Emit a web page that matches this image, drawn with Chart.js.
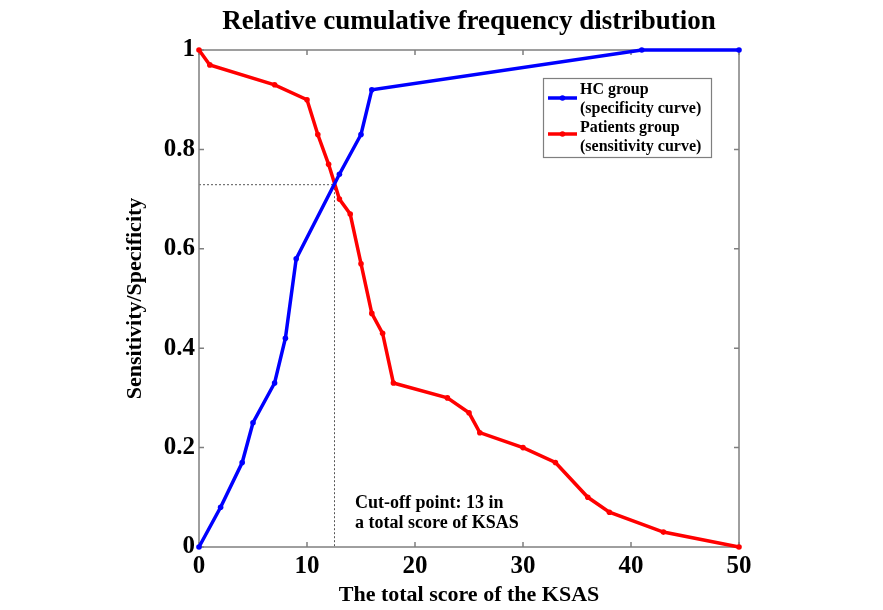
<!DOCTYPE html>
<html>
<head>
<meta charset="utf-8">
<script src="https://cdn.jsdelivr.net/npm/chart.js@4"></script>
<style>
  html, body { margin: 0; padding: 0; background: #fff; }
  #wrap { width: 883px; height: 610px; }
</style>
</head>
<body>
<div id="wrap"><canvas id="c" width="883" height="610"></canvas></div>
<script>
// KSAS total score (x) and cumulative proportions (y)
const hcScores = [0, 2, 4, 5, 7, 8, 9, 13, 15, 16, 41, 50];
const hcValues = [0, 0.08, 0.17, 0.25, 0.33, 0.42, 0.58, 0.75, 0.83, 0.92, 1, 1];
const patientScores = [0, 1, 7, 10, 11, 12, 13, 14, 15, 16, 17, 18, 23, 25, 26, 30, 33, 36, 38, 43, 50];
const patientValues = [1, 0.97, 0.93, 0.90, 0.83, 0.77, 0.70, 0.67, 0.57, 0.47, 0.43, 0.33, 0.30, 0.27, 0.23, 0.20, 0.17, 0.10, 0.07, 0.03, 0];
const xTicks = [0, 10, 20, 30, 40, 50];
const yTicks = [0, 0.2, 0.4, 0.6, 0.8, 1];
const cutoff = { x: 12.5, y: 0.73 };
const legendLabels = [["HC group", "(specificity curve)"], ["Patients group", "(sensitivity curve)"]];
const titleText = "Relative cumulative frequency distribution";
const cutoffNote = ["Cut-off point: 13 in", "a total score of KSAS"];

const SERIF = '"Liberation Serif", "Times New Roman", serif';
const BLUE = '#0000ff';
const RED = '#ff0000';
const AXIS = '#7f7f7f';

function pts(xs, ys) { return xs.map((x, i) => ({ x: x, y: ys[i] })); }

// Frame, inward ticks, cut-off guides, title, note and legend
const decor = {
  id: 'decor',
  beforeDatasetsDraw(chart) {
    const ctx = chart.ctx, a = chart.chartArea;
    const xs = chart.scales.x, ys = chart.scales.y;
    ctx.save();
    // dotted cut-off guides
    ctx.strokeStyle = '#555';
    ctx.lineWidth = 1;
    ctx.setLineDash([2, 2]);
    const cx = xs.getPixelForValue(cutoff.x), cy = ys.getPixelForValue(cutoff.y);
    ctx.beginPath();
    ctx.moveTo(xs.getPixelForValue(0), cy + 0.5); ctx.lineTo(cx, cy + 0.5);
    ctx.moveTo(cx + 0.5, cy); ctx.lineTo(cx + 0.5, ys.getPixelForValue(0));
    ctx.stroke();
    ctx.setLineDash([]);
    // frame
    ctx.strokeStyle = AXIS;
    ctx.lineWidth = 1.5;
    ctx.strokeRect(a.left, a.top, a.right - a.left, a.bottom - a.top);
    // inward tick marks on all four sides
    const tl = 5;
    ctx.beginPath();
    xTicks.forEach(v => {
      const px = xs.getPixelForValue(v);
      ctx.moveTo(px, a.bottom); ctx.lineTo(px, a.bottom - tl);
      ctx.moveTo(px, a.top); ctx.lineTo(px, a.top + tl);
    });
    yTicks.forEach(v => {
      const py = ys.getPixelForValue(v);
      ctx.moveTo(a.left, py); ctx.lineTo(a.left + tl, py);
      ctx.moveTo(a.right, py); ctx.lineTo(a.right - tl, py);
    });
    ctx.stroke();
    ctx.restore();
  },
  afterDraw(chart) {
    const ctx = chart.ctx, a = chart.chartArea;
    ctx.save();
    // title
    ctx.fillStyle = '#000';
    ctx.font = 'bold 27px ' + SERIF;
    ctx.textAlign = 'center';
    ctx.textBaseline = 'middle';
    ctx.fillText(titleText, (a.left + a.right) / 2, 22);
    // cut-off note
    ctx.font = 'bold 18px ' + SERIF;
    ctx.textAlign = 'left';
    ctx.fillText(cutoffNote[0], 355, 503);
    ctx.fillText(cutoffNote[1], 355, 523);
    // legend
    const bx = 543, by = 78, bw = 168, bh = 79;
    ctx.fillStyle = '#fff';
    ctx.fillRect(bx, by, bw, bh);
    ctx.strokeStyle = AXIS;
    ctx.lineWidth = 1.2;
    ctx.strokeRect(bx + 0.5, by + 0.5, bw, bh);
    const colors = chart.data.datasets.map(d => d.borderColor);
    const rows = [[90, 109, 98], [128, 147, 134]];
    legendLabels.forEach((lab, i) => {
      const [y1, y2, ly] = rows[i];
      ctx.strokeStyle = colors[i];
      ctx.lineWidth = 3.5;
      ctx.beginPath(); ctx.moveTo(548, ly); ctx.lineTo(577, ly); ctx.stroke();
      ctx.fillStyle = colors[i];
      ctx.beginPath(); ctx.arc(562.5, ly, 2.8, 0, Math.PI * 2); ctx.fill();
      ctx.fillStyle = '#000';
      ctx.font = 'bold 16px ' + SERIF;
      ctx.textBaseline = 'middle';
      ctx.fillText(lab[0], 580, y1);
      ctx.fillText(lab[1], 580, y2);
    });
    ctx.restore();
  }
};

new Chart(document.getElementById('c'), {
  type: 'line',
  data: {
    datasets: [
      {
        label: 'HC group (specificity curve)',
        data: pts(hcScores, hcValues),
        borderColor: BLUE, backgroundColor: BLUE,
        borderWidth: 3.5, pointRadius: 2.8, pointHoverRadius: 2.8,
        pointBorderWidth: 0, tension: 0, clip: false
      },
      {
        label: 'Patients group (sensitivity curve)',
        data: pts(patientScores, patientValues),
        borderColor: RED, backgroundColor: RED,
        borderWidth: 3.5, pointRadius: 2.8, pointHoverRadius: 2.8,
        pointBorderWidth: 0, tension: 0, clip: false
      }
    ]
  },
  options: {
    responsive: false,
    animation: false,
    events: [],
    layout: { padding: { left: 0, top: 50, right: 144, bottom: 0 } },
    plugins: { legend: { display: false }, title: { display: false }, tooltip: { enabled: false } },
    scales: {
      x: {
        type: 'linear', min: 0, max: 50,
        grid: { display: false, drawTicks: false },
        border: { display: false },
        afterBuildTicks(s) { s.ticks = xTicks.map(v => ({ value: v })); },
        afterFit(s) { s.height = 63; },
        ticks: { color: '#000', padding: 5, font: { family: SERIF, size: 25, weight: 'bold' }, maxRotation: 0 },
        title: { display: true, text: 'The total score of the KSAS', color: '#000',
                 font: { family: SERIF, size: 22, weight: 'bold' }, padding: { top: 0, bottom: 1 } }
      },
      y: {
        type: 'linear', min: 0, max: 1,
        grid: { display: false, drawTicks: false },
        border: { display: false },
        afterBuildTicks(s) { s.ticks = yTicks.map(v => ({ value: v })); },
        afterFit(s) { s.width = 199; },
        ticks: { color: '#000', padding: 4, font: { family: SERIF, size: 25, weight: 'bold' },
                 callback: v => String(v) },
        title: { display: true, text: 'Sensitivity/Specificity', color: '#000',
                 font: { family: SERIF, size: 22, weight: 'bold' }, padding: { top: 122, bottom: 0 } }
      }
    }
  },
  plugins: [decor]
});
</script>
</body>
</html>
